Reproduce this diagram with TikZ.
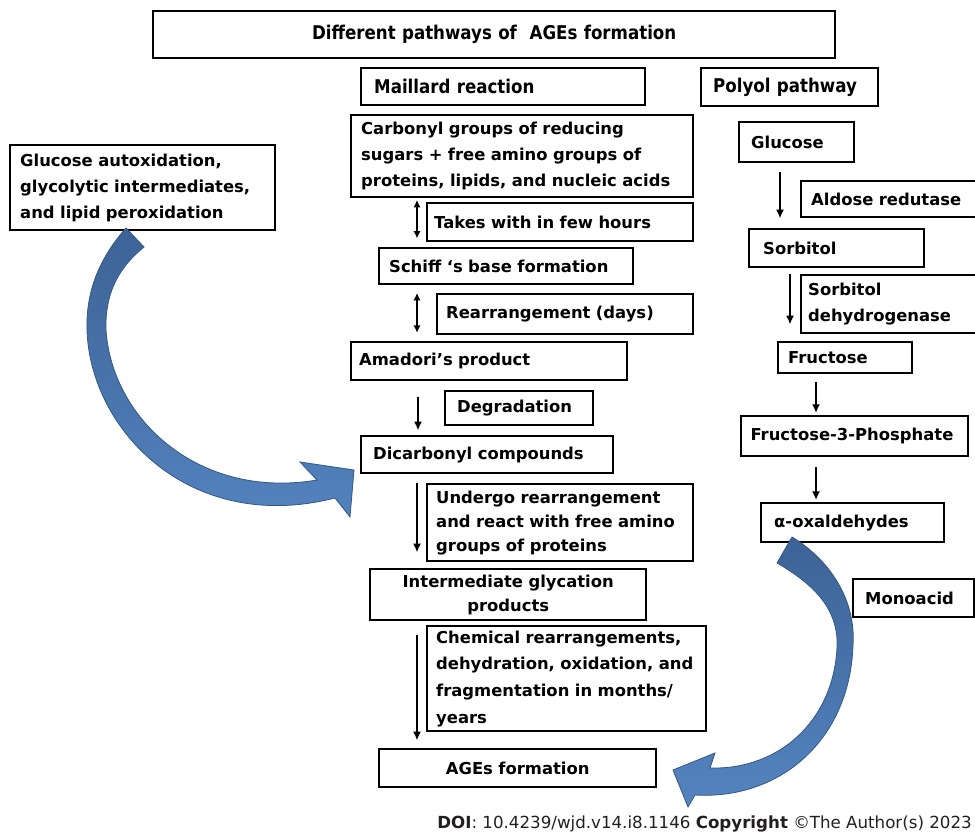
\documentclass[tikz,border=0pt]{standalone}
\usepackage{fontspec}
\setmainfont{DejaVu Sans}
\newfontfamily\headfont[FakeStretch=0.88]{DejaVu Sans}
\usetikzlibrary{arrows.meta,calc}

\definecolor{arrowtop}{RGB}{60,99,150}
\definecolor{arrowbottom}{RGB}{84,132,192}
\definecolor{arrowedge}{RGB}{52,88,134}
\definecolor{doitext}{RGB}{35,31,32}

\begin{document}
\begin{tikzpicture}[
    x=0.75pt, y=-0.75pt,
    box/.style={draw, line width=1.8pt, anchor=north west, align=left, inner xsep=7pt, inner ysep=1pt, font=\bfseries\fontsize{12.3}{19.5}\selectfont},
    headbox/.style={box, font=\headfont\bfseries\fontsize{14.2}{17}\selectfont},
    arrow/.style={-{Latex[length=6.5pt,width=6pt]}, line width=1.8pt},
    twoway/.style={{Latex[length=5.5pt,width=5.5pt]}-{Latex[length=5.5pt,width=5.5pt]}, line width=1.8pt},
    bigarrow/.style={draw=arrowedge, line width=0.6pt, top color=arrowtop, bottom color=arrowbottom}
  ]
    \useasboundingbox (0,0) rectangle (975,834);

    \node[headbox, align=center, text width=497.5pt, minimum height=35.25pt] (title) at (152,10) {Different pathways of\ \ AGEs formation};
    \node[headbox, inner xsep=9.75pt, text width=193.5pt, minimum height=27.75pt] (maillard) at (360,67) {Maillard reaction};
    \node[headbox, inner xsep=9pt, text width=114.75pt, minimum height=28.5pt] (polyol) at (700,67) {Polyol pathway};

    \node[box, inner xsep=7.5pt, text width=241.5pt, minimum height=61.5pt] (carbonyl) at (350,114) {Carbonyl groups of reducing\\sugars + free amino groups of\\proteins, lipids, and nucleic acids};
    \node[box, inner xsep=7.5pt, text width=183.75pt, minimum height=63.75pt] (autox) at (9,144) {Glucose autoxidation,\\glycolytic intermediates,\\and lipid peroxidation};
    \node[box, inner xsep=5.25pt, text width=189pt, minimum height=28.5pt] (takes) at (426,202) {Takes with in few hours};
    \node[box, inner xsep=7.5pt, text width=175.5pt, minimum height=27pt] (schiff) at (378,247) {Schiff ‘s base formation};
    \node[box, inner xsep=6.75pt, text width=178.5pt, minimum height=30pt] (rearr) at (436,293) {Rearrangement (days)};
    \node[box, inner xsep=6pt, text width=195pt, minimum height=28.5pt] (amadori) at (350,341) {Amadori’s product};
    \node[box, inner xsep=9pt, text width=93pt, minimum height=25.5pt] (degr) at (444,390) {Degradation};
    \node[box, inner xsep=9pt, text width=171pt, minimum height=27.75pt] (dicarb) at (360,435) {Dicarbonyl compounds};
    \node[box, inner xsep=6.75pt, text width=186pt, minimum height=57.75pt, font=\bfseries\fontsize{12.3}{18}\selectfont] (undergo) at (426,483) {Undergo rearrangement\\and react with free amino\\groups of proteins};
    \node[box, align=center, text width=193pt, minimum height=38.25pt, font=\bfseries\fontsize{12.3}{18}\selectfont] (interm) at (369,568) {Intermediate glycation\\products};
    \node[box, inner xsep=6.75pt, text width=195.75pt, minimum height=78.75pt, font=\bfseries\fontsize{12.3}{20}\selectfont] (chem) at (426,625) {Chemical rearrangements,\\dehydration, oxidation, and\\fragmentation in months/\\years};
    \node[box, align=center, text width=193.75pt, minimum height=28.5pt] (ages) at (378,748) {AGEs formation};

    \node[box, inner xsep=9pt, text width=68.25pt, minimum height=30pt] (glucose) at (738,121) {Glucose};
    \node[box, inner xsep=7.5pt, text width=127.5pt, minimum height=27pt] (aldose) at (800,180) {Aldose redutase};
    \node[box, inner xsep=10.5pt, text width=110.25pt, minimum height=28.5pt] (sorbitol) at (748,228) {Sorbitol};
    \node[box, inner xsep=5.25pt, text width=132pt, minimum height=43.5pt] (sorbdh) at (800,274) {Sorbitol\\dehydrogenase};
    \node[box, inner xsep=7.5pt, text width=85.5pt, minimum height=23.25pt] (fructose) at (777,341) {Fructose};
    \node[box, inner xsep=7pt, text width=156.25pt, minimum height=30pt] (f3p) at (740,415) {Fructose-3-Phosphate};
    \node[box, inner xsep=9.75pt, text width=117.75pt, minimum height=29.25pt] (alphaox) at (760,502) {α-oxaldehydes};
    \node[box, inner xsep=9pt, text width=72.75pt, minimum height=28.5pt] (monoacid) at (852,578) {Monoacid};

    \node[anchor=east, inner sep=0pt, text=doitext, font=\fontsize{12.5}{15}\selectfont] (doi) at (972,824) {\textbf{DOI}: 10.4239/wjd.v14.i8.1146 \textbf{Copyright} ©The Author(s) 2023};

    \draw[twoway] ([xshift=-6.75pt,yshift=1.5pt]takes.north west) -- ([xshift=-6.75pt,yshift=3pt]takes.south west);
    \draw[twoway] ([xshift=-14.25pt]rearr.north west) -- ([xshift=-14.25pt,yshift=2pt]rearr.south west);
    \draw[arrow] ([xshift=-19.5pt,yshift=-5pt]degr.north west) -- ([xshift=-19.5pt,yshift=-3pt]degr.south west);
    \draw[arrow] ([xshift=-6.75pt]undergo.north west) -- ([xshift=-6.75pt,yshift=7.5pt]undergo.south west);
    \draw[arrow] ([xshift=-6.75pt,yshift=-7.5pt]chem.north west) -- ([xshift=-6.75pt,yshift=-6pt]chem.south west);

    \draw[arrow] ([xshift=-15pt,yshift=6pt]aldose.north west) -- ([xshift=-15pt]aldose.south west);
    \draw[arrow] ([xshift=-7.5pt]sorbdh.north west) -- ([xshift=-7.5pt,yshift=7.5pt]sorbdh.south west);
    \draw[arrow] ($(fructose.south west)+(29.25pt,-6pt)$) -- ($(fructose.south west |- f3p.north)+(29.25pt,1.5pt)$);
    \draw[arrow] ($(alphaox.north west |- f3p.south)+(42pt,-7.5pt)$) -- ($(alphaox.north west)+(42pt,1.5pt)$);

    \path[bigarrow] (126,228) .. controls (96,262) and (86,296) .. (87,330)
      .. controls (90,430) and (190,535) .. (335,498)
      -- (350,517) -- (354,470) -- (300,462) -- (317,480)
      .. controls (200,500) and (112,420) .. (106,330)
      .. controls (105,296) and (116,270) .. (144,247) -- cycle;
    \path[bigarrow] (792,537) .. controls (830,560) and (856,600) .. (853,645)
      .. controls (850,740) and (780,800) .. (695,795)
      -- (688,807) -- (673,770) -- (715,753) -- (710,768)
      .. controls (778,770) and (833,722) .. (837,648)
      .. controls (839,610) and (815,585) .. (777,563) -- cycle;
  \end{tikzpicture}
\end{document}
